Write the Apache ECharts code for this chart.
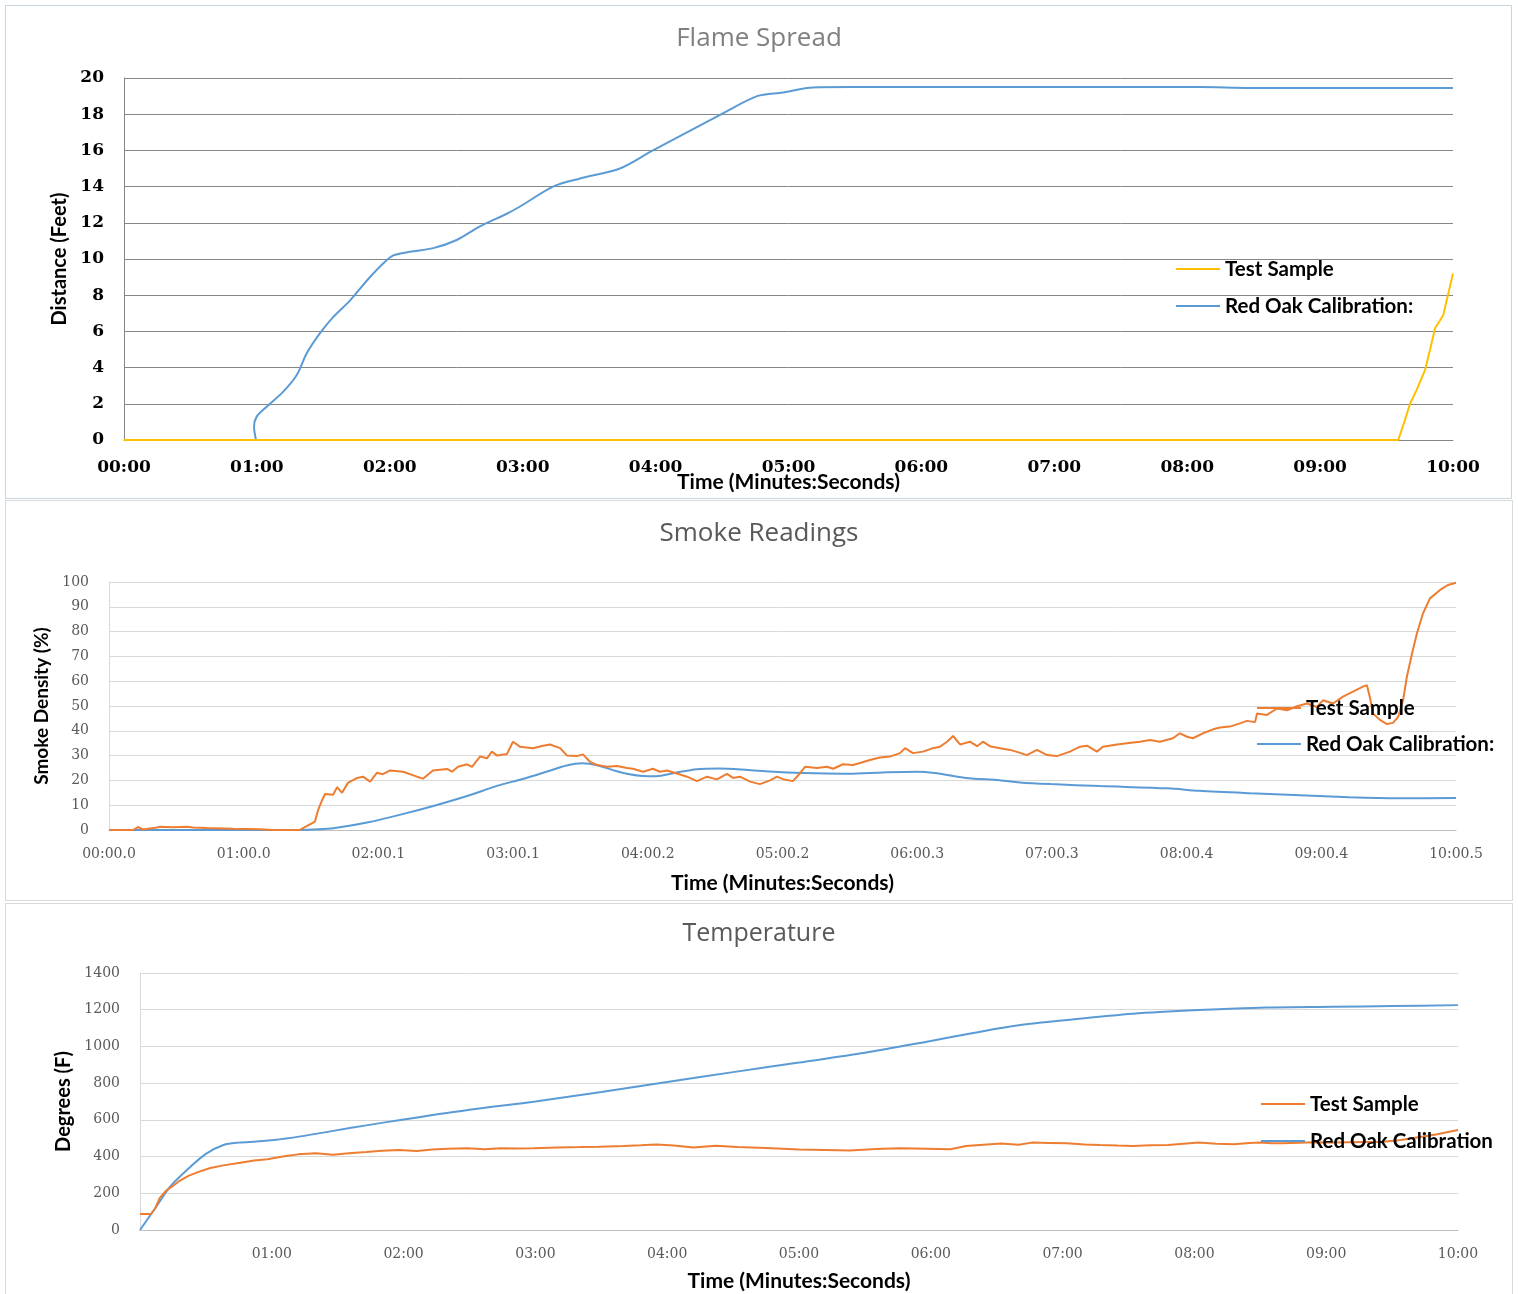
<!DOCTYPE html>
<html><head><meta charset="utf-8">
<script src="https://cdn.jsdelivr.net/npm/echarts@6/dist/echarts.min.js"></script>
<style>
html,body{margin:0;padding:0;background:#fff;width:1518px;height:1294px;overflow:hidden;}
.frame{position:absolute;box-sizing:border-box;border:1px solid #d9d9d9;}
.chart{position:absolute;left:0;width:1518px;}
</style></head><body>
<div class="frame" style="left:5px;top:5px;width:1507px;height:494px;border-color:#c6d7e4"></div>
<div class="frame" style="left:5px;top:500px;width:1508px;height:401px;"></div>
<div class="frame" style="left:5px;top:903px;width:1508px;height:395px;"></div>
<div id="c1" class="chart" style="top:0;height:500px"></div>
<div id="c2" class="chart" style="top:500px;height:400px"></div>
<div id="c3" class="chart" style="top:900px;height:394px"></div>
<script>
// ---------- tick labels ----------
const flameTicks = ['00:00','01:00','02:00','03:00','04:00','05:00','06:00','07:00','08:00','09:00','10:00'];
const smokeTicks = ['00:00.0','01:00.0','02:00.1','03:00.1','04:00.2','05:00.2','06:00.3','07:00.3','08:00.4','09:00.4','10:00.5'];
const tempTicks  = ['','01:00','02:00','03:00','04:00','05:00','06:00','07:00','08:00','09:00','10:00'];
const seriesNames = ['Test Sample','Red Oak Calibration:','Red Oak Calibration'];

// ---------- Flame Spread: [seconds, feet] ----------
const flameOak = [[59.6,0],[58.7,0.73],[59.9,1.29],[64.4,1.84],[71.9,2.67],[78.0,3.59],[82.5,4.79],[88.5,5.9],[94.5,6.8],[102.0,7.7],[109.6,8.8],[117.1,9.76],[121.6,10.2],[129.1,10.4],[139.6,10.6],[150.2,11.05],[160.7,11.8],[172.8,12.5],[178.8,12.9],[193.7,14.0],[205.9,14.45],[223.9,15.0],[238.8,16.0],[269.1,17.96],[285.8,19.0],[297.5,19.2],[311.1,19.48],[327.8,19.5],[485.8,19.5],[508.4,19.45],[600,19.45]];
const flameTest = [[0,0],[60,0],[120,0],[180,0],[240,0],[300,0],[360,0],[420,0],[480,0],[540,0],[575.3,0],[578.3,1.1],[580.6,2.0],[583.6,2.77],[587.4,3.87],[589.6,4.97],[591.9,6.17],[594.1,6.6],[595.6,6.9],[597.9,8.1],[600,9.2]];

// ---------- Smoke Readings: [seconds, %] ----------
const smokeTest = [[0,0],[10.7,0],[12.9,1.2],[15.2,0.2],[21.4,1.0],[22.7,1.3],[28.5,1.1],[34.8,1.3],[37.4,1.0],[43.7,0.8],[55.3,0.5],[67.3,0.3],[73.1,0],[85.1,0],[86.5,0.8],[91.8,3.4],[93.2,8],[95.0,12],[96.3,14.5],[99.9,14.2],[101.7,17.3],[103.9,15],[106.5,19],[110.6,21],[113.2,21.5],[116.4,19.5],[119.5,23.1],[122.1,22.5],[125.3,24],[131.1,23.5],[137.3,21.5],[140.0,20.7],[144.4,24],[150.7,24.6],[152.9,23.5],[155.6,25.5],[159.6,26.5],[161.8,25.5],[165.4,29.6],[168.5,28.9],[170.7,31.6],[173.0,30],[177.4,30.6],[180.1,35.6],[183.2,33.6],[189.0,33],[193.5,34],[196.6,34.5],[201.1,33],[204.2,30],[208.6,29.8],[211.3,30.5],[214.4,27.5],[217.6,26.2],[222.0,25.5],[226.5,25.8],[230.9,25],[233.6,24.7],[238.1,23.5],[242.5,24.7],[245.6,23.5],[248.8,24],[253.2,22.8],[257.7,21.5],[262.1,19.7],[266.6,21.5],[271.0,20.4],[275.5,22.6],[278.2,21],[281.3,21.5],[285.8,19.5],[290.2,18.5],[294.7,20],[297.8,21.5],[300.5,20.5],[304.9,19.7],[308.0,22.8],[310.3,25.5],[315.6,25],[320.1,25.5],[322.8,24.7],[327.2,26.5],[331.7,26.2],[334.8,27],[339.2,28.2],[343.7,29.2],[348.2,29.6],[352.6,31],[354.9,33],[358.4,31],[362.9,31.6],[367.3,33],[370.5,33.6],[373.6,35.6],[376.3,37.9],[379.4,34.5],[383.8,35.6],[387.0,33.8],[389.6,35.6],[392.7,33.8],[397.2,33],[401.7,32.3],[404.8,31.5],[409.2,30.2],[413.7,32.3],[418.2,30.2],[422.6,29.8],[428.4,31.6],[432.9,33.6],[436.0,34],[440.4,31.6],[443.1,33.6],[449.4,34.5],[453.8,35],[459.6,35.6],[464.1,36.3],[468.5,35.6],[474.3,37],[477.4,39],[480.6,37.6],[483.2,37],[487.7,39],[492.2,40.6],[495.3,41.3],[499.7,41.7],[504.2,43],[507.3,44],[510.9,43.5],[511.8,47],[516.2,46.4],[520.7,49],[525.2,48.3],[529.6,49.9],[534.1,51],[538.5,49.6],[541.2,52.3],[545.7,51],[550.1,53.8],[554.6,55.8],[559.0,57.8],[560.8,58.4],[562.2,53.1],[563.5,47],[566.6,44.4],[569.7,42.7],[572.4,43.2],[574.7,45.6],[576.9,52.3],[578.6,61.8],[580.9,71.2],[583.1,79.3],[585.8,87.4],[588.9,93.4],[593.4,96.8],[596.9,98.8],[600.5,99.7]];
const smokeOak = [[0,0],[85,0],[91,0.2],[100,0.7],[115,3],[130,6.2],[145,9.8],[160,13.8],[172,17.5],[180,19.5],[186,21],[195,23.5],[204,26],[211,26.9],[218,26],[226,23.8],[232,22.5],[238,21.8],[244,21.7],[252,23],[262,24.5],[272,24.8],[285,24.2],[300,23.3],[315,22.9],[330,22.7],[345,23.2],[360,23.5],[368,23],[382,21],[397,20.1],[406,19.2],[420,18.5],[442,17.7],[472,16.8],[486,15.8],[509,14.8],[531,14],[553,13.2],[575,12.8],[600.5,12.9]];

// ---------- Temperature: [seconds, degrees F] ----------
const tempTest = [[0,87],[5,87],[7,120],[9,175],[12,215],[15,240],[18,268],[22,295],[27,318],[32,338],[38,352],[45,365],[52,378],[58,385],[65,400],[72,412],[80,418],[88,410],[95,418],[103,425],[110,432],[118,436],[126,430],[133,438],[140,442],[149,446],[157,440],[164,445],[172,444],[179,446],[190,450],[200,452],[209,454],[220,458],[228,462],[235,466],[243,460],[252,450],[262,459],[272,452],[285,447],[300,438],[312,436],[323,433],[335,441],[346,445],[358,443],[369,440],[376,458],[384,465],[392,471],[400,464],[406,476],[414,474],[422,472],[430,466],[437,463],[445,460],[452,458],[460,462],[468,463],[475,470],[482,476],[490,470],[498,467],[505,474],[510,476],[515,473],[520,472],[528,475],[535,478],[543,476],[550,478],[558,480],[566,481],[574,490],[582,505],[590,520],[596,535],[600,545]];
const tempOak = [[0,0],[7,120],[14,240],[23,345],[30,415],[38,463],[45,476],[53,482],[61,490],[73,510],[88,540],[103,570],[120,602],[150,655],[180,700],[210,752],[240,806],[270,860],[300,912],[330,965],[360,1030],[380,1075],[400,1115],[422,1144],[452,1178],[482,1198],[513,1212],[543,1216],[570,1220],[600,1225]];

// ---------- styling helpers ----------
const BLUE = '#5b9bd5', ORANGE = '#ed7d31', GOLD = '#ffc000';
const sans = 'Lato', serif = 'DejaVu Serif';
function lineSeries(name, data, color, smooth) {
  return {name, type:'line', data, symbol:'none', showSymbol:false, smooth: smooth || false,
    lineStyle:{color, width:2}, itemStyle:{color}, emphasis:{disabled:true}};
}
function legendCfg(left, top, gap, names) {
  return {orient:'vertical', left, top, padding:0, icon:'rect', itemWidth:44, itemHeight:2, itemGap:gap, data:names,
    textStyle:{fontFamily:sans, fontWeight:'bold', fontSize:20.5, color:'#000', lineHeight:22}};
}
const plainNum = v => String(v);

// ---------- Chart 1: Flame Spread ----------
const c1 = echarts.init(document.getElementById('c1'));
c1.setOption({
  animation:false,
  title:{text:'Flame Spread', left:'center', top:26, padding:0,
    textStyle:{fontFamily:'Open Sans', fontSize:26, fontWeight:'normal', color:'#808080'}},
  grid:{left:124, right:65, top:78, bottom:60, outerBoundsMode:'none', containLabel:false},
  legend: legendCfg(1176, 258, 15, [seriesNames[0], seriesNames[1]]),
  xAxis:{type:'value', min:0, max:600, interval:60,
    axisLine:{show:true, lineStyle:{color:'#868686'}}, axisTick:{show:false}, splitLine:{show:false},
    axisLabel:{margin:19, fontFamily:serif, fontWeight:'bold', fontSize:17, color:'#000',
      formatter:v => flameTicks[Math.round(v/60)]},
    name:'Time (Minutes:Seconds)', nameLocation:'middle', nameGap:32, nameMoveOverlap:false,
    nameTextStyle:{fontFamily:sans, fontWeight:'bold', fontSize:21, color:'#000'}},
  yAxis:{type:'value', min:0, max:20, interval:2,
    axisLine:{show:true, lineStyle:{color:'#868686'}}, axisTick:{show:false},
    splitLine:{lineStyle:{color:'#868686'}},
    axisLabel:{margin:20, fontFamily:serif, fontWeight:'bold', fontSize:17, color:'#000', formatter:plainNum},
    name:'Distance (Feet)', nameLocation:'middle', nameGap:50,
    nameTextStyle:{fontFamily:sans, fontWeight:'bold', fontSize:20, color:'#000'}},
  series:[lineSeries(seriesNames[1], flameOak, BLUE, 0.3), lineSeries(seriesNames[0], flameTest, GOLD)]
});

// ---------- Chart 2: Smoke Readings ----------
const c2 = echarts.init(document.getElementById('c2'));
c2.setOption({
  animation:false,
  title:{text:'Smoke Readings', left:'center', top:21, padding:0,
    textStyle:{fontFamily:'Open Sans', fontSize:26, fontWeight:'normal', color:'#595959'}},
  grid:{left:109, right:62, top:82, bottom:70, outerBoundsMode:'none', containLabel:false},
  legend: legendCfg(1257, 197, 14, [seriesNames[0], seriesNames[1]]),
  xAxis:{type:'value', min:0, max:600.5, interval:60.05,
    axisLine:{show:true, lineStyle:{color:'#bfbfbf'}}, axisTick:{show:false}, splitLine:{show:false},
    axisLabel:{margin:17, fontFamily:serif, fontSize:14, color:'#595959',
      formatter:v => smokeTicks[Math.round(v/60.05)]},
    name:'Time (Minutes:Seconds)', nameLocation:'middle', nameGap:43, nameMoveOverlap:false,
    nameTextStyle:{fontFamily:sans, fontWeight:'bold', fontSize:21, color:'#000'}},
  yAxis:{type:'value', min:0, max:100, interval:10,
    axisLine:{show:true, lineStyle:{color:'#d9d9d9'}}, axisTick:{show:false},
    splitLine:{lineStyle:{color:'#d9d9d9'}},
    axisLabel:{margin:20, fontFamily:serif, fontSize:14, color:'#595959', formatter:plainNum},
    name:'Smoke Density (%)', nameLocation:'middle', nameGap:57,
    nameTextStyle:{fontFamily:sans, fontWeight:'bold', fontSize:19, color:'#000'}},
  series:[lineSeries(seriesNames[1], smokeOak, BLUE, 0.3), lineSeries(seriesNames[0], smokeTest, ORANGE)]
});

// ---------- Chart 3: Temperature ----------
const c3 = echarts.init(document.getElementById('c3'));
c3.setOption({
  animation:false,
  title:{text:'Temperature', left:'center', top:21, padding:0,
    textStyle:{fontFamily:'Open Sans', fontSize:25, fontWeight:'normal', color:'#595959'}},
  grid:{left:140, right:60, top:73, bottom:64, outerBoundsMode:'none', containLabel:false},
  legend: legendCfg(1261, 193, 15, [seriesNames[0], seriesNames[2]]),
  xAxis:{type:'value', min:0, max:600, interval:60,
    axisLine:{show:true, lineStyle:{color:'#bfbfbf'}}, axisTick:{show:false}, splitLine:{show:false},
    axisLabel:{margin:17, fontFamily:serif, fontSize:14, color:'#595959',
      formatter:v => tempTicks[Math.round(v/60)]},
    name:'Time (Minutes:Seconds)', nameLocation:'middle', nameGap:41, nameMoveOverlap:false,
    nameTextStyle:{fontFamily:sans, fontWeight:'bold', fontSize:21, color:'#000'}},
  yAxis:{type:'value', min:0, max:1400, interval:200,
    axisLine:{show:true, lineStyle:{color:'#d9d9d9'}}, axisTick:{show:false},
    splitLine:{lineStyle:{color:'#d9d9d9'}},
    axisLabel:{margin:20, fontFamily:serif, fontSize:14, color:'#595959', formatter:plainNum},
    name:'Degrees (F)', nameLocation:'middle', nameGap:64,
    nameTextStyle:{fontFamily:sans, fontWeight:'bold', fontSize:20, color:'#000'}},
  series:[lineSeries(seriesNames[2], tempOak, BLUE, 0.3), lineSeries(seriesNames[0], tempTest, ORANGE)]
});
</script>
</body></html>
